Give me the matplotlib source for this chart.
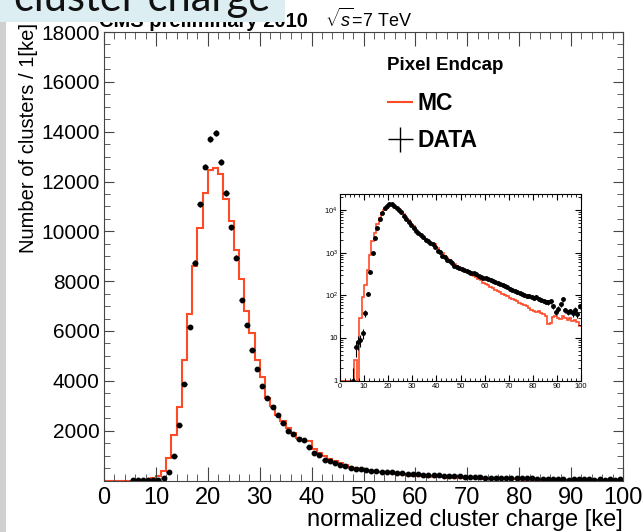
import numpy as np
import matplotlib
matplotlib.use("Agg")
import matplotlib.pyplot as plt
from matplotlib.lines import Line2D
from matplotlib.patches import Rectangle
from matplotlib.ticker import MultipleLocator, FixedLocator, LogLocator, NullFormatter, FixedFormatter

plt.rcParams['font.family'] = ['Liberation Sans', 'DejaVu Sans']
plt.rcParams['mathtext.fontset'] = 'custom'
plt.rcParams['mathtext.rm'] = 'Liberation Sans'
plt.rcParams['mathtext.it'] = 'Liberation Sans:italic'

# 1 ke bins, 0..100
edges = np.arange(0, 101, 1)
centers = edges[:-1] + 0.5

mc = np.array([
    0, 0, 0, 0, 0, 0, 3, 1, 30, 90,
    173, 400, 907, 1840, 2950, 4830, 6700, 8600, 10150, 11550,
    12450, 12550, 12300, 11300, 10400, 9240, 8070, 6800, 5900, 4840,
    4150, 3310, 2970, 2640, 2370, 2100, 1900, 1720, 1620, 1600,
    1260, 1100, 980, 860, 770, 690, 610, 545, 490, 440,
    400, 375, 350, 330, 300, 285, 265, 245, 225, 200,
    185, 175, 160, 150, 135, 128, 120, 110, 104, 95,
    88, 84, 78, 72, 66, 62, 58, 55, 50, 46,
    44, 40, 44, 38, 36, 33, 21, 22, 31, 33,
    30, 28, 33, 29, 27, 30, 25, 27, 24, 19], dtype=float)

data = np.array([
    0, 0, 0, 0, 0, 1, 6, 8, 9, 13,
    38, 110, 350, 975, 2210, 3890, 6150, 8740, 11080, 12600,
    13700, 13950, 12770, 11540, 10170, 8940, 7230, 6240, 5240, 4480,
    3780, 3330, 2950, 2630, 2290, 1990, 1850, 1680, 1620, 1350,
    1100, 1030, 830, 790, 690, 630, 585, 500, 455, 445,
    420, 395, 375, 355, 340, 330, 310, 290, 275, 262,
    255, 240, 228, 215, 205, 195, 185, 178, 165, 158,
    140, 135, 128, 120, 112, 108, 102, 98, 95, 90,
    86, 90, 82, 78, 75, 70, 68, 72, 55, 40,
    48, 62, 80, 45, 40, 42, 38, 46, 36, 55], dtype=float)

red = '#ff4a26'
W, H = 642, 532

fig = plt.figure(figsize=(W / 100, H / 100), dpi=100)
ax = fig.add_axes([104 / W, 1 - 480.5 / H, 519 / W, 448.5 / H])

ax.stairs(mc, edges, color=red, lw=1.5, baseline=0)
has = data > 0
ax.errorbar(centers[has], data[has], xerr=0.5, yerr=np.sqrt(data[has]),
            fmt='o', ms=3.2, color='k', elinewidth=1, capsize=0)

ax.set_xlim(0, 100)
ax.set_ylim(0, 18000)
ax.xaxis.set_major_locator(MultipleLocator(10))
ax.xaxis.set_minor_locator(MultipleLocator(2))
ax.yaxis.set_major_locator(FixedLocator(np.arange(2000, 18001, 2000)))
ax.yaxis.set_minor_locator(MultipleLocator(500))
ax.tick_params(which='both', direction='in', top=True, right=True, color='#444444')
ax.tick_params(axis='x', which='major', length=10, labelsize=17, pad=5)
ax.tick_params(axis='x', which='minor', length=5)
ax.tick_params(axis='y', which='major', length=7.2, labelsize=15, pad=3)
ax.tick_params(axis='y', which='minor', length=4.3)
for s in ax.spines.values():
    s.set_color('#444444')

ax.set_xlabel('normalized cluster charge [ke]', fontsize=17, loc='right', labelpad=0)
ax.set_ylabel('Number of clusters / 1[ke]', fontsize=14.5, loc='top')
ax.yaxis.set_label_coords(-0.128, 1.02)

ax.text(0.546, 0.926, 'Pixel Endcap', transform=ax.transAxes, ha='left', va='center',
        fontsize=13.5, fontweight='bold')
handles = [Line2D([], [], color=red, lw=1.5),
           Line2D([], [], color='k', marker='+', ms=18, mew=1, ls='none')]
leg = ax.legend(handles, ['MC', 'DATA'], loc='upper left',
                bbox_to_anchor=(0.548, 0.866), frameon=False,
                prop={'weight': 'bold', 'size': 16.5},
                handlelength=1.05, handletextpad=0.2, labelspacing=0.6,
                borderpad=0, borderaxespad=0)

# inset, log scale
ins = fig.add_axes([340 / W, 1 - 380.5 / H, 241 / W, 186.5 / H])
ins.stairs(np.clip(mc, 1, None), edges, color=red, lw=1.2, baseline=None)
ins.errorbar(centers[has], data[has], xerr=0.5, yerr=np.sqrt(data[has]),
             fmt='o', ms=2.5, color='k', elinewidth=0.8, capsize=0)
ins.set_yscale('log')
ins.set_xlim(0, 100)
ins.set_ylim(1, 2.4e4)
ins.xaxis.set_major_locator(MultipleLocator(10))
ins.xaxis.set_minor_locator(MultipleLocator(2))
ins.yaxis.set_major_locator(FixedLocator([1, 10, 100, 1000, 10000]))
ins.yaxis.set_major_formatter(FixedFormatter(['1', '10', '$10^2$', '$10^3$', '$10^4$']))
ins.yaxis.set_minor_locator(LogLocator(subs=np.arange(2, 10)))
ins.yaxis.set_minor_formatter(NullFormatter())
ins.tick_params(which='both', direction='in', top=True, right=True, labelsize=5.5, pad=1.5)
ins.tick_params(which='major', length=4)
ins.tick_params(which='minor', length=2)

# header text
fig.text(308 / W, 1 - 27 / H, 'CMS preliminary 2010', ha='right', va='baseline',
         fontsize=14.5, fontweight='bold', zorder=5)
fig.text(325 / W, 1 - 27 / H, r'$\sqrt{s}$=7 TeV', ha='left', va='baseline',
         fontsize=13, zorder=5)

# slide decorations
fig.patches.append(Rectangle((0, 1 - 22 / H), 285 / W, 22 / H, transform=fig.transFigure,
                             facecolor='#ddeef2', edgecolor='none', zorder=10))
fig.patches.append(Rectangle((0, 0), 6 / W, 1 - 22 / H, transform=fig.transFigure,
                             facecolor='#d0d0d0', edgecolor='none', zorder=10))
fig.text(270 / W, 1 - 11 / H, 'cluster charge', ha='right', va='baseline',
         fontsize=30, family='Lato', color='#111111', zorder=11)

fig.savefig('out.png', dpi=100)
